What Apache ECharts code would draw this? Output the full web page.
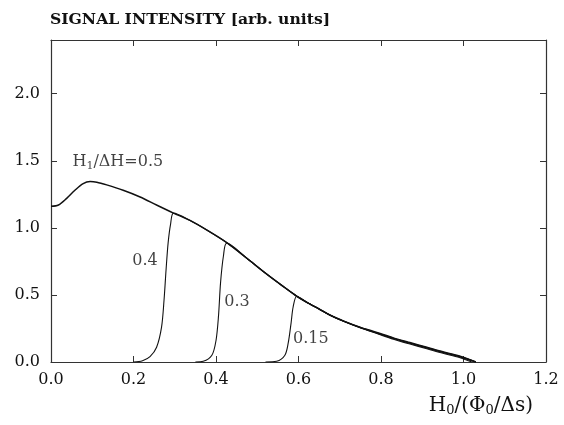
<!DOCTYPE html>
<html>
<head>
<meta charset="utf-8">
<script src="https://cdn.jsdelivr.net/npm/echarts@6/dist/echarts.min.js"></script>
<style>
  html, body { margin: 0; padding: 0; background: #fff; }
  #chart { width: 564px; height: 425px; }
</style>
</head>
<body>
<div id="chart"></div>
<script>
// Signal intensity versus reduced field, one curve per H1/ΔH ratio
const xTicks = [0, 0.2, 0.4, 0.6, 0.8, 1.0, 1.2];
const yTicks = [0, 0.5, 1.0, 1.5, 2.0];

// H1/ΔH = 0.5
const x05 = [0, 0.018, 0.038, 0.058, 0.078, 0.095, 0.111, 0.135, 0.175, 0.216, 0.256, 0.297, 0.337, 0.377, 0.426, 0.474, 0.523, 0.56, 0.596, 0.62, 0.65, 0.676, 0.71, 0.749, 0.79, 0.83, 0.87, 0.911, 0.95, 0.99, 1.03];
const y05 = [1.16, 1.17, 1.22, 1.28, 1.33, 1.345, 1.34, 1.32, 1.28, 1.23, 1.17, 1.11, 1.055, 0.985, 0.89, 0.775, 0.655, 0.57, 0.49, 0.445, 0.395, 0.35, 0.305, 0.26, 0.22, 0.18, 0.145, 0.11, 0.076, 0.045, 0.0];

// H1/ΔH = 0.4
const x04 = [0.20, 0.222, 0.24, 0.256, 0.268, 0.274, 0.279, 0.284, 0.29, 0.297, 0.337, 0.377, 0.426, 0.474, 0.523, 0.56, 0.596, 0.62, 0.65, 0.676, 0.71, 0.749, 0.79, 0.83, 0.87, 0.911, 0.95, 0.99, 1.03];
const y04 = [0.0, 0.01, 0.04, 0.11, 0.26, 0.46, 0.69, 0.89, 1.03, 1.11, 1.055, 0.985, 0.89, 0.775, 0.655, 0.57, 0.49, 0.445, 0.395, 0.35, 0.304, 0.258, 0.217, 0.177, 0.142, 0.107, 0.073, 0.042, 0.0];

// H1/ΔH = 0.3
const x03 = [0.35, 0.369, 0.39, 0.40, 0.406, 0.411, 0.418, 0.426, 0.474, 0.523, 0.56, 0.596, 0.62, 0.65, 0.676, 0.71, 0.749, 0.79, 0.83, 0.87, 0.911, 0.95, 0.99, 1.03];
const y03 = [0.0, 0.005, 0.05, 0.16, 0.34, 0.59, 0.79, 0.886, 0.775, 0.655, 0.57, 0.49, 0.445, 0.395, 0.35, 0.303, 0.257, 0.215, 0.175, 0.14, 0.104, 0.071, 0.04, 0.0];

// H1/ΔH = 0.15
const x015 = [0.52, 0.547, 0.567, 0.575, 0.582, 0.587, 0.596, 0.62, 0.65, 0.676, 0.71, 0.749, 0.79, 0.83, 0.87, 0.911, 0.95, 0.99, 1.02];
const y015 = [0.0, 0.005, 0.05, 0.14, 0.29, 0.41, 0.49, 0.445, 0.394, 0.349, 0.302, 0.255, 0.212, 0.17, 0.134, 0.099, 0.065, 0.034, 0.0];

// curve annotations: [x, y, text, horizontal anchor]
const curveLabels = [
  [0.052, 1.49, '{n|H}{s|1}{n|/ΔH=0.5}', 'left'],
  [0.228, 0.754, '0.4', 'center'],
  [0.451, 0.448, '0.3', 'center'],
  [0.630, 0.172, '0.15', 'center']
];

const pairs = (xs, ys) => xs.map((x, i) => [x, ys[i]]);

const FONT = 'DejaVu Serif';
const INK = '#111';
const FRAME = '#333';

function curve(name, xs, ys, w) {
  return {
    name: name,
    type: 'line',
    data: pairs(xs, ys),
    showSymbol: false,
    smooth: 0.3,
    lineStyle: { color: INK, width: w },
    silent: true,
    z: 3
  };
}

const chart = echarts.init(document.getElementById('chart'), null, { renderer: 'canvas' });

const axisCommon = {
  type: 'value',
  splitLine: { show: false },
  axisLine: { show: true, onZero: false, lineStyle: { color: FRAME, width: 1.2 } },
  axisTick: { show: true, inside: true, length: 6, lineStyle: { color: FRAME, width: 1 } }
};

const labelRich = {
  n: { fontFamily: FONT, fontSize: 16, color: INK },
  s: { fontFamily: FONT, fontSize: 11, color: INK, verticalAlign: 'bottom', padding: [9, 0, 0, 0] }
};

chart.setOption({
  animation: false,
  backgroundColor: '#fff',
  title: {
    text: 'SIGNAL INTENSITY [arb. units]',
    left: 45,
    top: 7,
    textStyle: { fontFamily: FONT, fontWeight: 'bold', fontSize: 15.6, color: INK }
  },
  grid: { left: 51, right: 18, top: 40, bottom: 63 },
  xAxis: [
    Object.assign({}, axisCommon, {
      position: 'bottom',
      min: xTicks[0], max: xTicks[xTicks.length - 1], interval: 0.2,
      axisLabel: {
        margin: 10, color: INK, fontFamily: FONT, fontSize: 16,
        formatter: v => v.toFixed(1)
      },
      name: '{n|H}{s|0}{n|/(Φ}{s|0}{n|/Δs)}',
      nameLocation: 'end',
      nameGap: 0,
      nameTextStyle: {
        align: 'right',
        verticalAlign: 'top',
        padding: [32, 13, 0, 0],
        rich: {
          n: { fontFamily: FONT, fontSize: 20, color: INK },
          s: { fontFamily: FONT, fontSize: 13, color: INK, verticalAlign: 'bottom', padding: [10, 0, 0, 0] }
        }
      }
    }),
    Object.assign({}, axisCommon, {
      position: 'top',
      min: xTicks[0], max: xTicks[xTicks.length - 1], interval: 0.2,
      axisLabel: { show: false }
    })
  ],
  yAxis: [
    Object.assign({}, axisCommon, {
      position: 'left',
      min: 0, max: 2.4, interval: 0.5,
      axisLabel: {
        margin: 11, color: INK, fontFamily: FONT, fontSize: 16,
        showMaxLabel: false,
        formatter: v => (yTicks.some(t => Math.abs(t - v) < 1e-9) ? v.toFixed(1) : '')
      }
    }),
    Object.assign({}, axisCommon, {
      position: 'right',
      min: 0, max: 2.4, interval: 0.5,
      axisLabel: { show: false }
    })
  ],
  series: [
    curve('0.5', x05, y05, 1.5),
    curve('0.4', x04, y04, 1.1),
    curve('0.3', x03, y03, 1.1),
    curve('0.15', x015, y015, 1.1),
    {
      type: 'scatter',
      data: curveLabels.map(d => ({
        value: [d[0], d[1]],
        labelText: d[2],
        label: { align: d[3] }
      })),
      symbolSize: 0,
      silent: true,
      label: {
        show: true,
        position: 'inside',
        formatter: p => p.data.labelText,
        color: INK,
        fontFamily: FONT,
        fontSize: 16,
        rich: labelRich
      },
      z: 4
    }
  ]
});
</script>
</body>
</html>
